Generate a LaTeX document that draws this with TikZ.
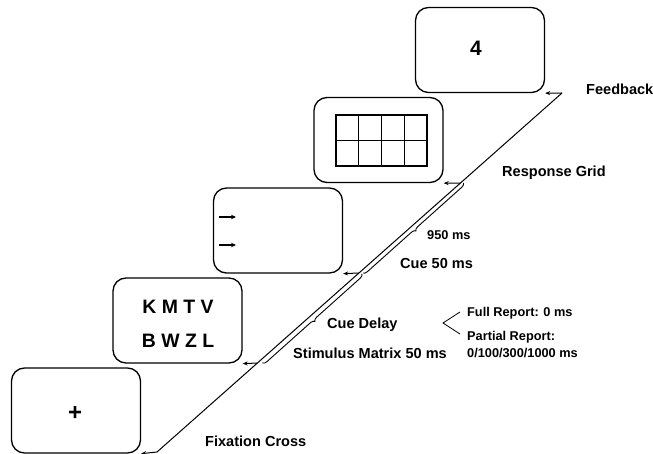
\documentclass[tikz,border=0pt]{standalone}
\usepackage{fontspec}
\setmainfont{Liberation Sans}
\usetikzlibrary{decorations.pathreplacing,arrows.meta,calc}
\begin{document}
\begin{tikzpicture}[x=1bp,y=-1bp,
 screen/.style={draw,line width=1.3bp,rounded corners=13bp,minimum width=129bp,minimum height=85bp,inner sep=0pt},
 lbl/.style={anchor=west,inner sep=0pt,font=\fontsize{14.6}{16}\bfseries\selectfont},
 slbl/.style={anchor=west,inner sep=0pt,font=\fontsize{12.8}{14}\bfseries\selectfont},
 big/.style={inner sep=0pt,font=\fontsize{19.5}{22}\bfseries\selectfont},
 tarrow/.style={-{Stealth[length=5bp,width=4bp]},line width=1bp},
 carrow/.style={-{Stealth[length=5bp,width=4.5bp]},line width=1.4bp},
 brc/.style={decorate,decoration={brace,amplitude=4bp},line width=0.9bp}]
\useasboundingbox (0,0) rectangle (653,454);
% screens
\node[screen] (fix)  at (76,410.5) {};
\node[screen] (stim) at (177.5,320.5) {};
\node[screen] (cue)  at (278,230.5) {};
\node[screen] (resp) at (378.5,140) {};
\node[screen] (fb)   at (480,50) {};
% screen contents
\node[big,font=\fontsize{24}{26}\bfseries\selectfont] (plus) at (75,413) {+};
\node[big] (row1) at (178,307) {K M T V};
\node[big] (row2) at (178,341) {B W Z L};
\node[big,font=\fontsize{21}{24}\bfseries\selectfont] (four) at (476,48) {4};
\coordinate (ca1) at (219,217); \coordinate (cb1) at (236,217);
\coordinate (ca2) at (219,245); \coordinate (cb2) at (236,245);
\draw[carrow] (ca1) -- (cb1);
\draw[carrow] (ca2) -- (cb2);
\draw[line width=1.4bp] (336,115) rectangle (427,166);
\foreach \x in {358.75,381.5,404.25} \draw[line width=1.4bp] (\x,115) -- (\x,166);
\draw[line width=1.4bp] (336,140.5) -- (427,140.5);
% time line
\coordinate (t0) at (157,452);
\coordinate (t1) at (257.4,363);
\coordinate (t2) at (358.9,273);
\coordinate (t3) at (460.5,183);
\coordinate (t4) at (562,93);
\draw[line width=1bp] (t0) -- (t4);
\draw[tarrow] (t0) -- (fix.south east);
\draw[tarrow] (t1) -- (stim.south east);
\draw[tarrow] (t2) -- (cue.south east);
\draw[tarrow] (t3) -- (resp.south east);
\draw[tarrow] (t4) -- (fb.south east);
% braces
\draw[brc] ($(t2)+(3,1)$) -- ($(t1)+(5,0)$);
\draw[brc] ($(t3)+(3,0)$) -- ($(t2)+(4,0)$);
% labels
\node[lbl] (lfb) at (586,89) {Feedback};
\node[lbl] (lrg) at (502,173) {Response Grid};
\node[slbl] (l950) at (427,235) {950 ms};
\node[lbl] (lcue) at (400,263) {Cue 50 ms};
\node[slbl] (lfull) at (467,313) {Full Report: 0 ms};
\node[slbl] (lpart) at (467,337) {Partial Report:};
\node[slbl] (ltimes) at (467,353) {0/100/300/1000 ms};
\node[lbl] (lcd) at (327,325) {Cue Delay};
\node[lbl] (lsm) at (293,353) {Stimulus Matrix 50 ms};
\node[lbl] (lfc) at (205,441) {Fixation Cross};
\coordinate (ka) at (460,312);
\coordinate (kb) at (443,323);
\coordinate (kc) at (460,334);
\draw[line width=0.8bp] (ka) -- (kb) -- (kc);
\end{tikzpicture}
\end{document}
